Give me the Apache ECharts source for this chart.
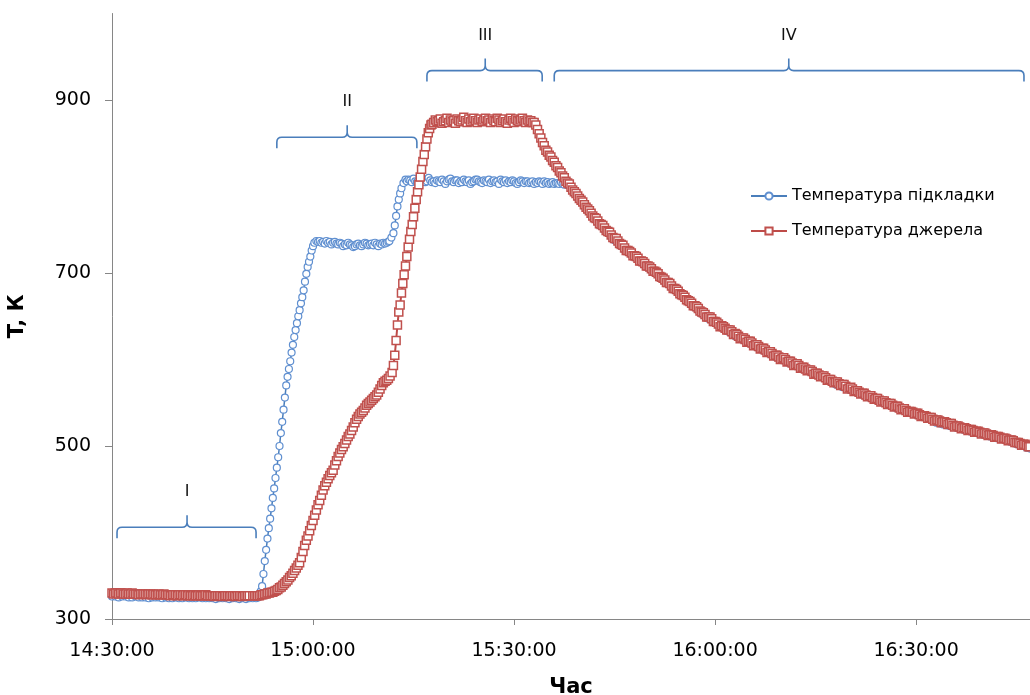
<!DOCTYPE html>
<html>
<head>
<meta charset="utf-8">
<script src="https://cdn.jsdelivr.net/npm/echarts@6/dist/echarts.min.js"></script>
<style>
html,body{margin:0;padding:0;background:#fff;}
#chart{width:1030px;height:695px;}
</style>
</head>
<body>
<div id="chart"></div>
<script>
// ---- tick labels ----
const timeTickMinutes = [0, 30, 60, 90, 120];           // minutes after 14:30:00
const timeTickLabels = ['14:30:00', '15:00:00', '15:30:00', '16:00:00', '16:30:00'];
const tempTicks = [300, 500, 700, 900];
const seriesNames = ['Температура підкладки', 'Температура джерела'];

// ---- substrate temperature (K), time in minutes after 14:30 ----
const substrateBase = [326,326,325,326,326,325,325,326,325,325,
  325,324,325,325,325,324,325,324,324,325,
  324,324,325,324,324,324,325,324,324,324,
  324,323,324,324,324,323,324,324,323,324,
  323,324,324,324];                                       // t = 0 .. 21.5, step 0.5
const substrateRise1 = [[21.8,325],[22.0,328],[22.2,332],[22.4,338],[22.6,352],[22.8,367],[23.0,380],[23.2,393],
  [23.4,405],[23.6,416],[23.8,428],[24.0,440],[24.2,451],[24.4,463],[24.6,475],[24.8,487],[25.0,500],[25.2,515],
  [25.4,528],[25.6,542],[25.8,556],[26.0,570],[26.2,580],[26.4,589],[26.6,598],[26.8,608],[27.0,617],[27.2,626],
  [27.4,634],[27.6,642],[27.8,650],[28.0,657],[28.2,665],[28.4,672],[28.6,680],[28.8,690],[29.0,699],[29.2,707],
  [29.4,713],[29.6,719],[29.8,726],[30.0,731],[30.2,735],[30.5,737]];
const substratePlateau1 = [736,737,735,736,734,737,735,736,733,735,
  736,734,733,735,734,731,733,732,735,733,
  732,730,731,733,734,732,731,733,735,734,
  732,733,734,732,735,733,731,734,733,735,
  734,735,736];                                           // t = 30.75 .. 41.25, step 0.25
const substrateRise2 = [[41.4,737],[41.7,741],[42.0,746],[42.2,755],[42.4,766],[42.6,777],[42.8,785],[43.0,792],[43.2,798],[43.5,804],[43.8,808]];
const substratePlateau2 = [806,808,807,805,809,806,805,804,807,806,
  808,805,806,810,807,805,806,804,807,806,
  805,808,806,803,806,808,809,806,805,807,
  807,804,806,805,808,806,805,807,803,805,
  806,808,808,806,805,804,807,806,805,808,
  804,806,807,805,806,803,808,806,805,807,
  804,806,805,807,806,804,803,805,807,806,
  804,806,806,804,805,806,803,805,804,806,
  805,803,806,804,805,803,804,805,803,804,
  804,803,805,803,802];                                   // t = 44 .. 67.5, step 0.25
const substrateCooling = [802,797,792,787,782,777,772,767,763,758,
  754,750,746,742,738,735,731,727,724,721,
  718,715,712,709,706,703,700,697,694,690,
  687,684,680,677,674,670,667,664,660,657,
  653,650,647,645,642,640,637,635,632,630,
  627,625,623,621,619,617,615,613,611,609,
  607,605,603,601,600,598,596,594,593,591,
  590,588,586,585,583,581,580,578,576,574,
  571,570,568,567,565,564,562,561,559,557,
  556,555,553,552,550,549,547,546,544,543,
  542,540,539,538,536,535,534,532,531,530,
  527,526,525,524,523,522,521,520,519,518,
  517,516,515,514,513,512,511,510,509,508,
  508,506,505,504,502,501,500,498,497];                   // t = 68 .. 137, step 0.5

// ---- source temperature (K) ----
const sourceBase = [330,329,330,330,329,330,330,329,329,330,
  329,329,330,329,329,329,328,329,329,329,
  329,328,329,329,328,329,328,328,329,328,
  328,329,328,328,328,327,328,328,328,327,
  328,328,327,328,328,327,328,327,327,328,
  327,327,328,327,327,327,328,327,327,327,
  327,326,327,327,327,327,326,327,327,327,
  326,327,327,327,326,327,327,327,326,327,
  327,327,327];                                           // t = 0 .. 20.5, step 0.25
const sourceRise1 = [327,327,327,327,327,328,328,329,329,330,
  330,331,331,332,333,334,336,337,339,341,
  343,345,348,350,353,356,359,362,365,371,
  378,385,391,396,402,408,414,420,426,432,
  437,443,449,454,458,462,466,469,472,478,
  483,488,492,496,499,503,507,511,514,518,
  522,527,531,534,537,539,541,544,547,549,
  551,553,555,557,559,562,566,570,573,575,
  576,578,581];                                           // t = 21 .. 41.5, step 0.25
const sourceRise2 = [[41.8,585],[42.0,593],[42.2,605],[42.4,622],[42.6,640],[42.8,655],[43.0,663],[43.2,677],
  [43.4,688],[43.6,698],[43.8,708],[44.0,719],[44.2,730],[44.4,739],[44.6,748],[44.8,756],[45.0,765],[45.2,775],
  [45.4,785],[45.6,794],[45.8,802],[46.0,811],[46.2,820],[46.4,829],[46.6,837],[46.8,846],[47.0,855],[47.2,862],
  [47.4,867],[47.6,871]];
const sourcePlateau = [872,874,877,875,876,878,873,875,876,879,
  874,877,875,876,873,878,876,875,877,880,
  876,874,878,875,877,879,876,874,877,878,
  875,877,879,876,877,874,878,876,875,879,
  877,874,876,878,875,873,877,879,876,874,
  878,876,875,877,879,876,874,877,875,876,
  874];                                                   // t = 47.75 .. 62.75, step 0.25
const sourceCooling = [874,871,866,861, 856,851,847,842, 840,836,834,830, 828,824,822,818,
  816,812,810,806, 804,803,799,796, 794,792,789,786, 784,782,779,776,
  774,772,769,766, 764,763,760,757, 756,755,752,749, 748,747,744,741,
  740,740,737,734, 733,732,729,726, 726,725,723,720, 720,719,717,714,
  714,713,711,708, 708,707,705,702, 702,701,699,696, 695,694,692,689,
  689,688,685,682, 682,681,679,676, 675,674,672,669, 668,667,665,662,
  662,661,659,656, 655,654,652,649, 649,649,647,644, 644,643,641,638,
  639,638,636,634, 634,634,632,629, 630,629,627,624, 625,625,623,620,
  621,621,619,616, 617,617,615,612, 613,613,611,608, 609,609,607,604,
  605,605,603,600, 601,602,600,597, 598,598,596,593, 594,595,593,590,
  591,591,589,587, 588,588,586,583, 584,584,582,580, 581,581,579,576,
  577,577,575,573, 574,574,572,570, 571,571,569,566, 567,568,566,563,
  564,564,562,560, 561,561,559,557, 558,558,556,554, 555,555,553,551,
  552,552,550,548, 549,549,547,545, 546,546,544,542, 543,543,541,539,
  540,540,539,537, 538,538,536,534, 535,535,534,532, 533,533,531,529,
  530,530,529,527, 528,528,527,525, 526,526,524,522, 523,523,522,520,
  521,521,520,518, 519,519,518,516, 517,517,516,514, 515,515,514,512,
  513,513,512,510, 511,511,510,508, 509,509,508,506, 507,507,506,504,
  504,504,503,501, 502,502,501,499, 499];                 // t = 63 .. 137, step 0.25

// ---- process stage braces ----
const phaseLabels = ['I', 'II', 'III', 'IV'];
const phaseStart = [0.75, 24.6, 47.0, 66.0];
const phaseEnd = [21.5, 45.5, 64.2, 136.1];
const phaseTip = [11.2, 35.1, 55.7, 101.0];
const phaseLevel = [406, 857, 934, 934];

const seg = (t0, step, vals) => vals.map((v, i) => [t0 + i * step, v]);

const substrateData = [].concat(seg(0, 0.5, substrateBase), substrateRise1, seg(30.75, 0.25, substratePlateau1),
  substrateRise2, seg(44, 0.25, substratePlateau2), seg(68, 0.5, substrateCooling));
const sourceData = [].concat(seg(0, 0.25, sourceBase), seg(21, 0.25, sourceRise1), sourceRise2,
  seg(47.75, 0.25, sourcePlateau), seg(63, 0.25, sourceCooling));
const phaseData = phaseLabels.map((l, i) => [phaseStart[i], phaseEnd[i], phaseTip[i], phaseLevel[i]]);

const FONT = 'DejaVu Sans';
const chart = echarts.init(document.getElementById('chart'), null, {renderer: 'canvas'});

chart.setOption({
  animation: false,
  backgroundColor: '#ffffff',
  grid: {left: 112, right: 0, top: 13.5, bottom: 76, containLabel: false, outerBoundsMode: 'none'},
  legend: {
    data: seriesNames,
    orient: 'vertical',
    left: 745, top: 183,
    itemWidth: 36, itemHeight: 9, itemGap: 19,
    textStyle: {fontFamily: FONT, fontSize: 16, color: '#000'}
  },
  xAxis: {
    type: 'value', min: 0, max: 137,
    name: 'Час', nameLocation: 'middle', nameGap: 58,
    nameTextStyle: {fontFamily: FONT, fontSize: 21, fontWeight: 'bold', color: '#000'},
    axisLine: {show: true, lineStyle: {color: '#868686', width: 1}},
    axisTick: {show: true, length: 6, customValues: timeTickMinutes, lineStyle: {color: '#868686'}},
    axisLabel: {customValues: timeTickMinutes, margin: 23, fontFamily: FONT, fontSize: 19, color: '#000',
      formatter: v => timeTickLabels[timeTickMinutes.indexOf(v)] || ''},
    splitLine: {show: false}
  },
  yAxis: {
    type: 'value', min: 300, max: 1000,
    name: 'T, К', nameLocation: 'middle', nameGap: 84, nameRotate: 90,
    nameTextStyle: {fontFamily: FONT, fontSize: 21, fontWeight: 'bold', color: '#000'},
    axisLine: {show: true, lineStyle: {color: '#868686', width: 1}},
    axisTick: {show: true, length: 7, customValues: tempTicks, lineStyle: {color: '#868686'}},
    axisLabel: {customValues: tempTicks, margin: 21, fontFamily: FONT, fontSize: 19, color: '#000'},
    splitLine: {show: false}
  },
  series: [
    {
      name: seriesNames[0], type: 'line', data: substrateData,
      symbol: 'circle', symbolSize: 7, showSymbol: true, showAllSymbol: true,
      lineStyle: {color: '#4a7ebb', width: 1.5},
      itemStyle: {color: '#ffffff', borderColor: '#5f8fd0', borderWidth: 1.2},
      emphasis: {disabled: true}, z: 2
    },
    {
      name: seriesNames[1], type: 'line', data: sourceData,
      symbol: 'rect', symbolSize: 8, showSymbol: true, showAllSymbol: true,
      lineStyle: {color: '#be4b48', width: 2},
      itemStyle: {color: '#ffffff', borderColor: '#c0504d', borderWidth: 1.5},
      emphasis: {disabled: true}, z: 3
    },
    {
      type: 'custom', coordinateSystem: 'cartesian2d', data: phaseData, silent: true, z: 5,
      encode: {x: [0, 1, 2], y: 3},
      renderItem: function (params, api) {
        const y = api.coord([0, api.value(3)])[1];
        const lx = api.coord([api.value(0), 300])[0];
        const rx = api.coord([api.value(1), 300])[0];
        const tx = api.coord([api.value(2), 300])[0];
        const s = 5, h = 11, up = 12;
        const d = 'M' + lx + ',' + (y + h) + ' L' + lx + ',' + (y + s) + ' Q' + lx + ',' + y + ' ' + (lx + s) + ',' + y +
          ' L' + (tx - s) + ',' + y + ' Q' + tx + ',' + y + ' ' + tx + ',' + (y - s) + ' L' + tx + ',' + (y - up) +
          ' M' + tx + ',' + (y - s) + ' Q' + tx + ',' + y + ' ' + (tx + s) + ',' + y +
          ' L' + (rx - s) + ',' + y + ' Q' + rx + ',' + y + ' ' + rx + ',' + (y + s) + ' L' + rx + ',' + (y + h);
        return {
          type: 'group',
          children: [
            {type: 'path', shape: {pathData: d, x: lx, y: y - up, width: rx - lx, height: up + h, layout: 'cover'},
              style: {stroke: '#4a7ebb', fill: null, lineWidth: 1.6}},
            {type: 'text', x: tx, y: y - 35,
              style: {text: phaseLabels[params.dataIndex], fill: '#111', font: '16px "DejaVu Sans"',
                textAlign: 'center', textVerticalAlign: 'middle'}}
          ]
        };
      }
    }
  ]
});
</script>
</body>
</html>
